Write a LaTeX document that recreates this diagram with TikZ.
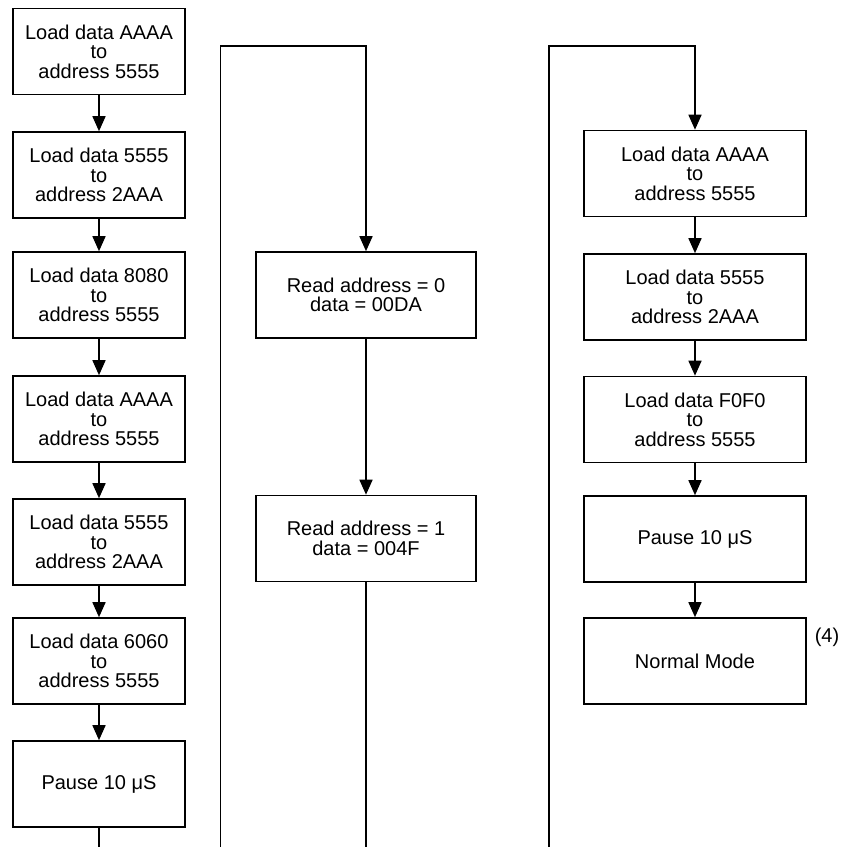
\documentclass[tikz,border=0pt]{standalone}
\usepackage{fontspec}
\setmainfont{Liberation Sans}
\usetikzlibrary{arrows.meta}
\begin{document}
\begin{tikzpicture}[x=1pt,y=-1pt,
  box/.style={draw, line width=1.6pt, minimum height=86pt, align=center, inner sep=0pt,
    font=\fontsize{20}{19.5}\selectfont},
  lbox/.style={box, minimum width=172pt},
  mbox/.style={box, minimum width=220pt},
  rbox/.style={box, minimum width=222pt},
  conn/.style={line width=1.6pt},
  arr/.style={conn, -{Triangle[length=15pt,width=13pt]}}]
\useasboundingbox (0,0) rectangle (841,847);
% left column
\node[lbox] (l1) at (99,51.5) {Load data AAAA\\to\\address 5555};
\node[lbox] (l2) at (99,175) {Load data 5555\\to\\address 2AAA};
\node[lbox] (l3) at (99,295) {Load data 8080\\to\\address 5555};
\node[lbox] (l4) at (99,419) {Load data AAAA\\to\\address 5555};
\node[lbox] (l5) at (99,542) {Load data 5555\\to\\address 2AAA};
\node[lbox] (l6) at (99,661) {Load data 6060\\to\\address 5555};
\node[lbox] (l7) at (99,784) {Pause 10 μS};
\coordinate (lend) at (99,847);
\draw[arr] (l1) -- (l2);
\draw[arr] (l2) -- (l3);
\draw[arr] (l3) -- (l4);
\draw[arr] (l4) -- (l5);
\draw[arr] (l5) -- (l6);
\draw[arr] (l6) -- (l7);
\draw[conn] (l7) -- (lend);
% middle column
\node[mbox] (m1) at (366,295) {Read address = 0\\data = 00DA};
\node[mbox] (m2) at (366,538.5) {Read address = 1\\data = 004F};
\coordinate (mstart) at (220.5,847);
\coordinate (mtop) at (220.5,46);
\coordinate (mend) at (366,847);
\draw[arr] (mstart) -- (mtop) -| (m1);
\draw[arr] (m1) -- (m2);
\draw[conn] (m2) -- (mend);
% right column
\node[rbox] (r1) at (695,173.5) {Load data AAAA\\to\\address 5555};
\node[rbox] (r2) at (695,297) {Load data 5555\\to\\address 2AAA};
\node[rbox] (r3) at (695,419.5) {Load data F0F0\\to\\address 5555};
\node[rbox] (r4) at (695,539) {Pause 10 μS};
\node[rbox] (r5) at (695,661) {Normal Mode};
\coordinate (rstart) at (549,847);
\coordinate (rtop) at (549,46);
\draw[arr] (rstart) -- (rtop) -| (r1);
\draw[arr] (r1) -- (r2);
\draw[arr] (r2) -- (r3);
\draw[arr] (r3) -- (r4);
\draw[arr] (r4) -- (r5);
\node[font=\fontsize{20}{19.5}\selectfont, inner sep=0pt] (note) at (827,637) {(4)};
\end{tikzpicture}
\end{document}
